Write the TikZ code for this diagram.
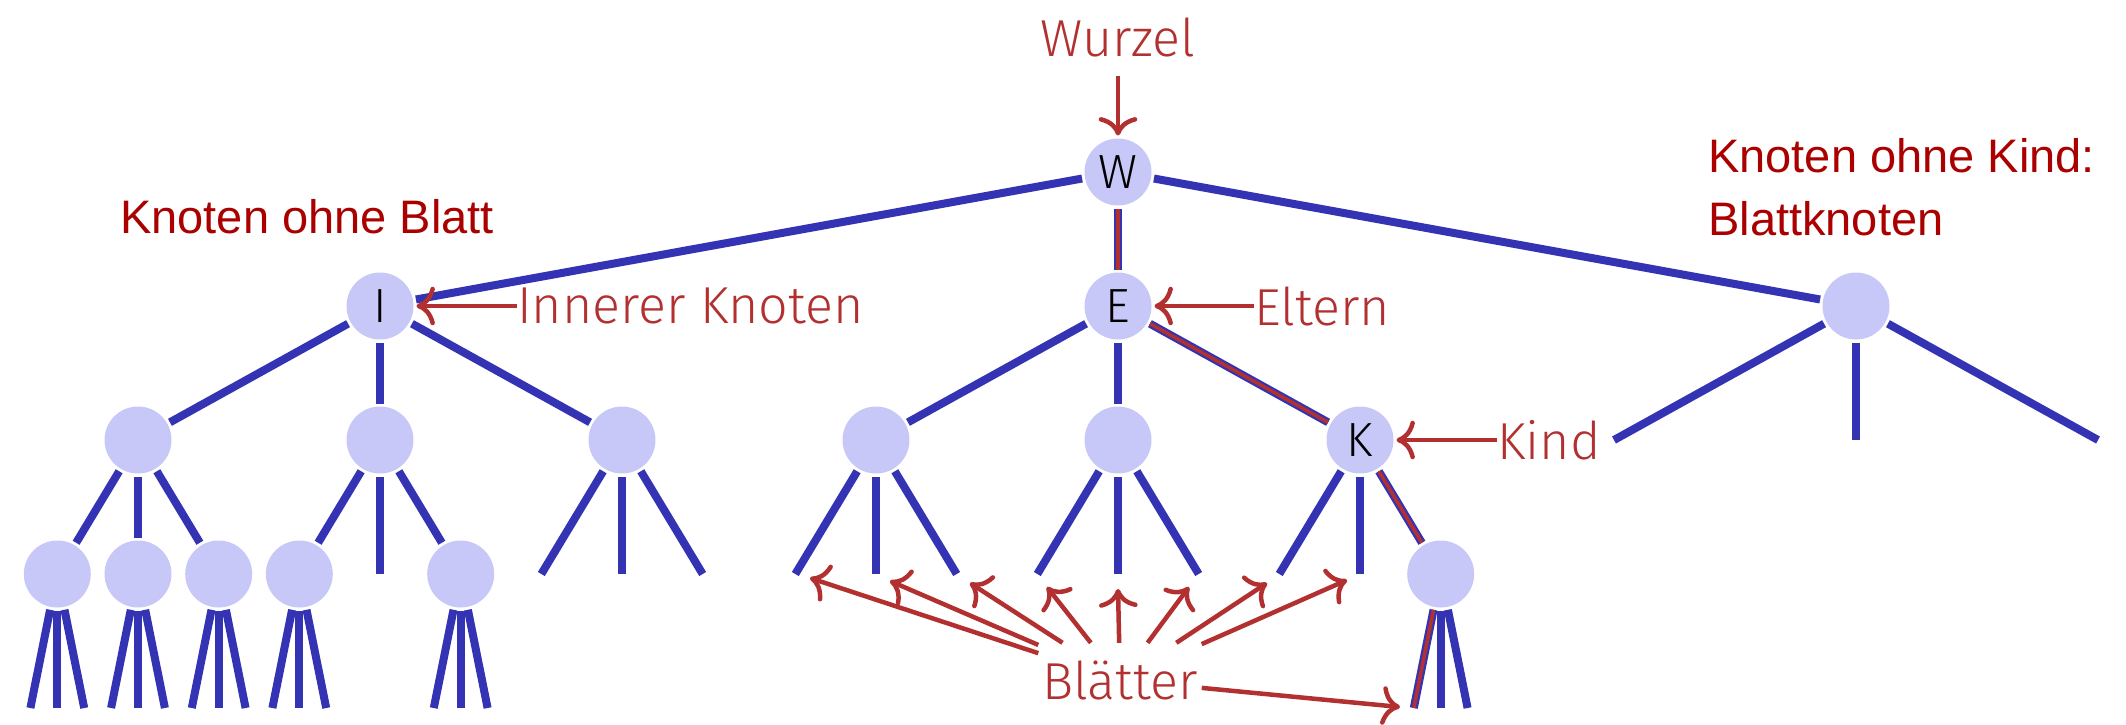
\documentclass[tikz,border=0pt]{standalone}
\usepackage{fontspec}
\setmainfont{Liberation Sans}
\newfontfamily\lightfont{Fira Sans Light}
\usetikzlibrary{arrows.meta}
\definecolor{eblue}{RGB}{51,51,179}
\definecolor{nfill}{RGB}{200,200,248}
\definecolor{lred}{RGB}{178,48,48}
\definecolor{dred}{RGB}{170,0,0}
\begin{document}
\begin{tikzpicture}[x=1pt,y=-1pt,
  nd/.style={circle, fill=nfill, minimum size=67pt, inner sep=0pt, outer sep=3pt,
    font=\lightfont\fontsize{48}{48}\selectfont},
  tline/.style={draw=eblue, line width=8pt},
  hl/.style={draw=eblue, line width=2.2pt, double=lred, double distance=3.6pt},
  lbl/.style={text=lred, inner sep=0pt, font=\lightfont\fontsize{52}{52}\selectfont},
  note/.style={text=dred, inner sep=0pt, font=\fontsize{47}{47}\selectfont},
  arr/.style={draw=lred, line width=4.5pt, -{Computer Modern Rightarrow[scale=1.6]}},
]
\useasboundingbox (0,0) rectangle (2126,724);

% levels 0-2
\node[nd] (W) at (1118,172) {W};
\node[nd] (I) at (380,306) {I};
\node[nd] (E) at (1118,306) {E};
\node[nd] (R) at (1856,306) {};
\node[nd] (A) at (138,440) {};
\node[nd] (B) at (380,440) {};
\node[nd] (C) at (622,440) {};
\node[nd] (D) at (876,440) {};
\node[nd] (F) at (1118,440) {};
\node[nd] (K) at (1360,440) {K};

\draw[tline] (W) -- (I);
\draw[tline] (W) -- (R);
\draw[hl] (W) -- (E);
\draw[tline] (I) -- (A);
\draw[tline] (I) -- (B);
\draw[tline] (I) -- (C);
\draw[tline] (E) -- (D);
\draw[tline] (E) -- (F);
\draw[hl] (E) -- (K);

% free ends of R
\coordinate (r1) at (1614,440);
\coordinate (r2) at (1856,440);
\coordinate (r3) at (2098,440);
\foreach \c in {r1,r2,r3} \draw[tline] (R) -- (\c);

% level 3 circles
\node[nd] (a1) at (57.3,574) {};
\node[nd] (a2) at (138,574) {};
\node[nd] (a3) at (218.7,574) {};
\node[nd] (b1) at (299.3,574) {};
\node[nd] (b3) at (460.7,574) {};
\node[nd] (k3) at (1440.7,574) {};
\foreach \c in {a1,a2,a3} \draw[tline] (A) -- (\c);
\draw[tline] (B) -- (b1);
\draw[tline] (B) -- (b3);
\draw[hl] (K) -- (k3);

% level 3 free ends
\coordinate (b2) at (380,574);
\draw[tline] (B) -- (b2);
\foreach \p/\x in {C/622, D/876, F/1118}{
  \coordinate (\p1) at ({\x-80.67},574);
  \coordinate (\p2) at (\x,574);
  \coordinate (\p3) at ({\x+80.67},574);
  \draw[tline] (\p) -- (\p1);
  \draw[tline] (\p) -- (\p2);
  \draw[tline] (\p) -- (\p3);
}
\coordinate (k1) at (1279.3,574);
\coordinate (k2) at (1360,574);
\draw[tline] (K) -- (k1);
\draw[tline] (K) -- (k2);

% level 4 free ends
\foreach \n/\x in {a1/57.3, a2/138, a3/218.7, b1/299.3, b3/460.7, k3/1440.7}{
  \coordinate (\n-1) at ({\x-26.9},708);
  \coordinate (\n-2) at (\x,708);
  \coordinate (\n-3) at ({\x+26.9},708);
}
\foreach \n in {a1,a2,a3,b1,b3}{
  \draw[tline] (\n) -- (\n-1);
  \draw[tline] (\n) -- (\n-2);
  \draw[tline] (\n) -- (\n-3);
}
\draw[hl] (k3) -- (k3-1);
\draw[tline] (k3) -- (k3-2);
\draw[tline] (k3) -- (k3-3);

% labels
\node[lbl, anchor=base] (wz) at (1118,56) {Wurzel};
\draw[arr] ([yshift=-20pt]wz.base) -- (W);
\node[lbl, anchor=base west] (ik) at (517,323) {Innerer Knoten};
\draw[arr] (ik.west |- I) -- (I);
\node[lbl, anchor=base west] (el) at (1254,325) {Eltern};
\draw[arr] (el.west |- E) -- (E);
\node[lbl, anchor=base west] (kd) at (1497,459) {Kind};
\draw[arr] (kd.west |- K) -- (K);

\node[lbl, minimum width=163pt, minimum height=74pt] (bl) at (1120,680) {Blätter};
\coordinate (t1) at (810,578);
\coordinate (t2) at (890,581);
\coordinate (t3) at (970,583);
\coordinate (t4) at (1047,587);
\coordinate (t5) at (1118,589);
\coordinate (t6) at (1189,587);
\coordinate (t7) at (1267,583);
\coordinate (t8) at (1347,580);
\coordinate (t9) at (1400,707);
\foreach \t in {t1,t2,t3,t4,t5,t6,t7,t8,t9} \draw[arr] (bl) -- (\t);

\node[note, anchor=base west] (kob) at (120,233) {Knoten ohne Blatt};
\node[note, anchor=base west] (kok) at (1708,172) {Knoten ohne Kind:};
\node[note, anchor=base west] (bk) at (1708,235) {Blattknoten};
\end{tikzpicture}
\end{document}
